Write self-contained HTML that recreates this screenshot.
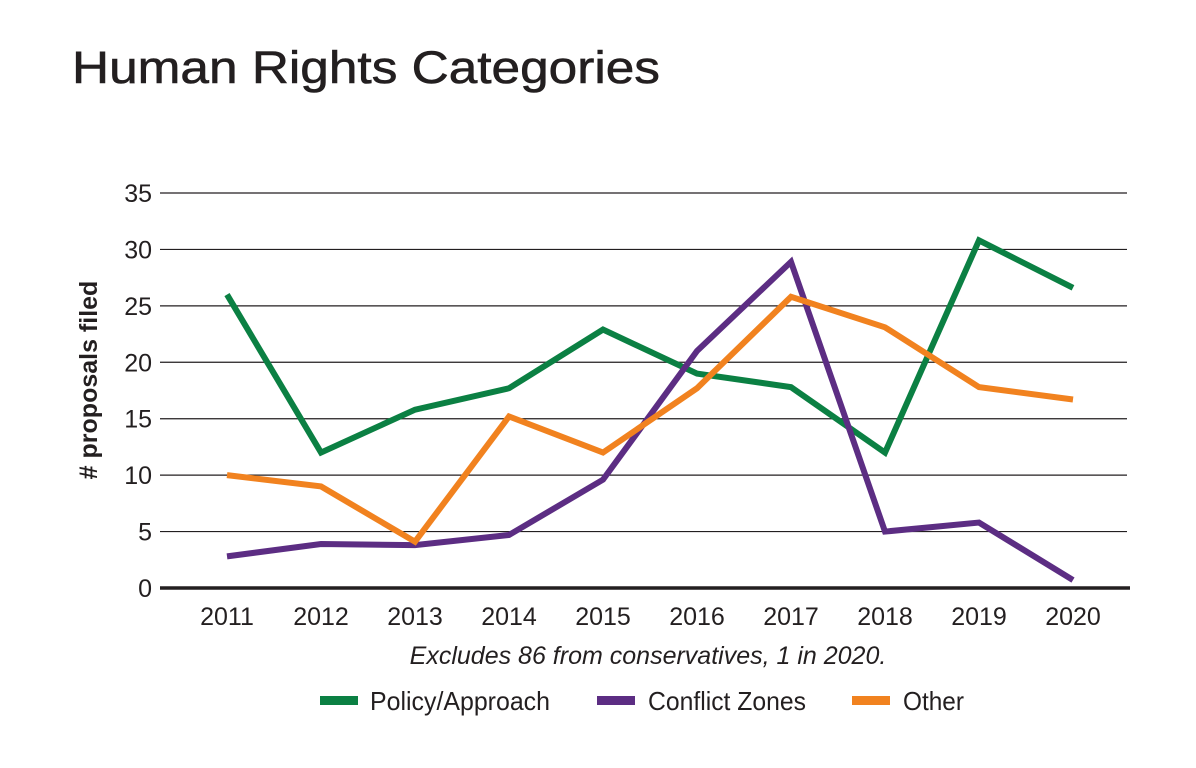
<!DOCTYPE html>
<html><head><meta charset="utf-8"><style>
body{margin:0;background:#fff;width:1196px;height:763px;overflow:hidden}
svg text{font-family:"Liberation Sans Narrow","Liberation Sans",sans-serif;fill:#231f20}
</style></head><body>
<svg id="chart" width="1196" height="763">
<text x="72" y="83" textLength="588" lengthAdjust="spacingAndGlyphs" style="font-family:'Liberation Sans',sans-serif;font-size:45px;stroke:#231f20;stroke-width:0.6">Human Rights Categories</text>
<g id="grid"></g><g id="lines"></g>
<text transform="translate(97,380) rotate(-90)" text-anchor="middle" font-size="25" font-weight="bold"># proposals filed</text>
<text x="648" y="664" text-anchor="middle" font-size="25" font-style="italic">Excludes 86 from conservatives, 1 in 2020.</text>
<g>
<rect x="320" y="696" width="38" height="9" fill="#0b8043"/>
<text x="370" y="710" font-size="26" textLength="180" lengthAdjust="spacingAndGlyphs">Policy/Approach</text>
<rect x="597" y="696" width="38" height="9" fill="#5c2d83"/>
<text x="648" y="710" font-size="26" textLength="158" lengthAdjust="spacingAndGlyphs">Conflict Zones</text>
<rect x="852" y="696" width="38" height="9" fill="#f1821f"/>
<text x="903" y="710" font-size="26" textLength="61" lengthAdjust="spacingAndGlyphs">Other</text>
</g>
</svg>
<script>
const years=["2011","2012","2013","2014","2015","2016","2017","2018","2019","2020"];
const policy=[26,12,15.8,17.7,22.9,19,17.8,12,30.8,26.6];
const conflict=[2.8,3.9,3.8,4.7,9.6,21,28.9,5,5.8,0.7];
const other=[10,9,4.1,15.2,12,17.7,25.8,23.1,17.8,16.7];
const yTicks=[0,5,10,15,20,25,30,35];
const NS="http://www.w3.org/2000/svg";
const x=i=>227+i*94;
const y=v=>588-v*(395/35);
const grid=document.getElementById('grid'),lines=document.getElementById('lines');
function mk(tag,attrs,parent){const e=document.createElementNS(NS,tag);for(const k in attrs)e.setAttribute(k,attrs[k]);parent.appendChild(e);return e;}
yTicks.forEach(t=>{
 if(t>0){const l=mk('line',{x1:160,x2:1127,y1:y(t),y2:y(t),stroke:'#231f20','stroke-width':1.2},grid);
 
 }
 const tx=mk('text',{x:152,y:y(t)+9,'text-anchor':'end','font-size':25},grid);tx.textContent=t;
 
 
});
const ax=mk('line',{x1:160,x2:1130,y1:588,y2:588,stroke:'#231f20','stroke-width':3.5},grid);


years.forEach((yr,i)=>{const tx=mk('text',{x:x(i),y:625,'text-anchor':'middle','font-size':25},grid);tx.textContent=yr;
 
 });
[[policy,'#0b8043','policy-line'],[conflict,'#5c2d83','conflict-zones-line'],[other,'#f1821f','other-line']].forEach(([d,c,n])=>{
 const p=mk('polyline',{points:d.map((v,i)=>x(i)+','+y(v)).join(' '),fill:'none',stroke:c,'stroke-width':6,'stroke-linejoin':'miter'},lines);
 
 
});
</script>
</body></html>
